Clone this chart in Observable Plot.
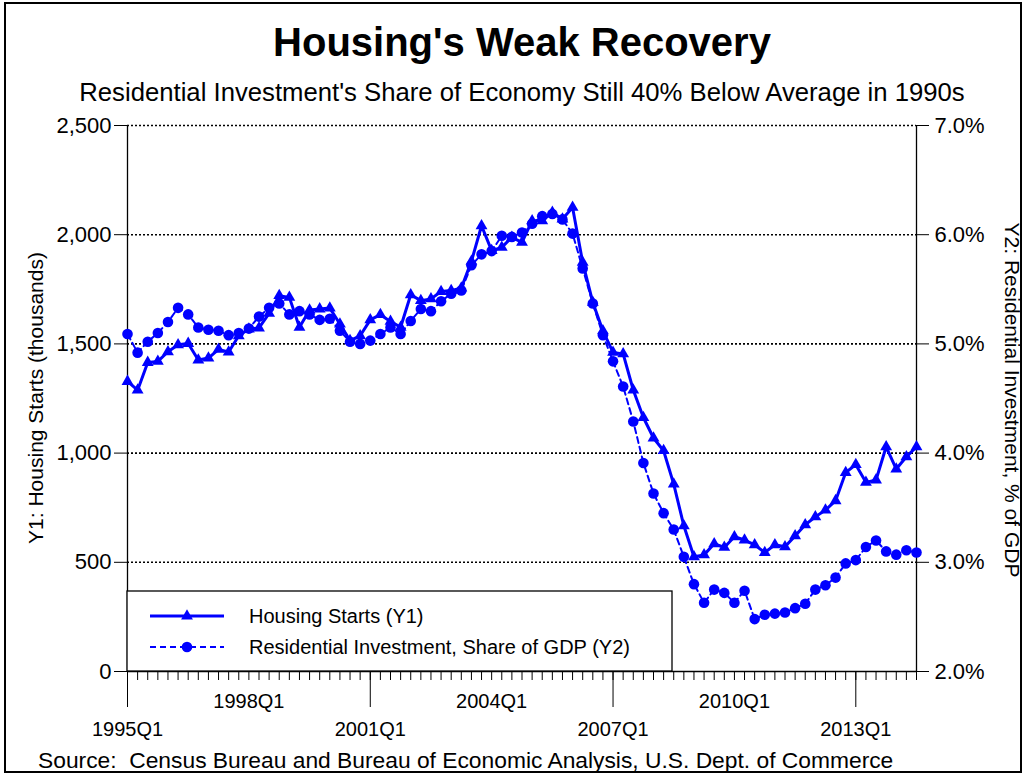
<!DOCTYPE html>
<html><head><meta charset="utf-8">
<script src="https://cdn.jsdelivr.net/npm/d3@7"></script>
<script src="https://cdn.jsdelivr.net/npm/@observablehq/plot@0.6"></script>
<style>
html,body{margin:0;padding:0;background:#fff;overflow:hidden;}
#wrap{position:relative;width:1028px;height:776px;overflow:hidden;background:#fff;}
#wrap svg{position:absolute;left:0;top:0;}
#frame{position:absolute;left:4px;top:2px;width:1018px;height:771px;box-sizing:border-box;border:2px solid #000;pointer-events:none;}
</style></head><body><div id="wrap"></div><script>
// ---- categories ----
const quarters = [];
for (let y = 1995; y <= 2014; y++) for (let q = 1; q <= 4; q++) quarters.push(`${y}Q${q}`);
quarters.length = 79; // 1995Q1 .. 2014Q3

// ---- series values ----
const housingStarts = [1328,1288,1415,1420,1464,1496,1502,1426,1435,1475,
  1463,1537,1568,1573,1640,1721,1713,1576,1655,1660,
  1664,1591,1515,1537,1610,1634,1603,1576,1725,1698,
  1706,1740,1744,1756,1878,2041,1927,1942,1988,1965,
  2064,2064,2102,2072,2125,1873,1690,1560,1461,1454,
  1289,1163,1069,1011,858,667,525,534,585,568,
  617,602,580,545,580,571,621,672,708,739,
  782,911,947,866,877,1029,927,983,1029];
const resInvShare = [5.09,4.92,5.02,5.10,5.20,5.33,5.27,5.15,5.13,5.12,
  5.08,5.10,5.14,5.25,5.33,5.37,5.27,5.30,5.27,5.22,
  5.23,5.12,5.02,5.00,5.03,5.09,5.15,5.09,5.21,5.32,
  5.30,5.39,5.46,5.49,5.72,5.82,5.85,5.99,5.98,6.02,
  6.10,6.17,6.19,6.14,6.01,5.69,5.37,5.08,4.84,4.61,
  4.29,3.91,3.63,3.45,3.30,3.05,2.80,2.63,2.75,2.72,
  2.63,2.74,2.48,2.52,2.53,2.54,2.58,2.62,2.75,2.79,
  2.86,2.99,3.02,3.14,3.20,3.10,3.07,3.11,3.09];

// ---- tick labels ----
const y1Ticks = [0, 500, 1000, 1500, 2000, 2500];
const y2Labels = ["2.0%", "3.0%", "4.0%", "5.0%", "6.0%", "7.0%"];
const y2Min = 2.0, y2Max = 7.0;
const xLabelsLow = ["1995Q1", "2001Q1", "2007Q1", "2013Q1"];
const xLabelsHigh = ["1998Q1", "2004Q1", "2010Q1"];

const TITLE = "Housing's Weak Recovery";
const SUBTITLE = "Residential Investment's Share of Economy Still 40% Below Average in 1990s";
const SOURCE = "Source:  Census Bureau and Bureau of Economic Analysis, U.S. Dept. of Commerce";
const Y1_TITLE = "Y1: Housing Starts (thousands)";
const Y2_TITLE = "Y2: Residential Investment, % of GDP";
const LEGEND = ["Housing Starts (Y1)", "Residential Investment, Share of GDP (Y2)"];

// map secondary axis into primary units
const y1Max = y1Ticks[y1Ticks.length - 1];
const toY1 = v => (v - y2Min) / (y2Max - y2Min) * y1Max;

const hs = quarters.map((q, i) => ({q, v: housingStarts[i]}));
const ri = quarters.map((q, i) => ({q, v: toY1(resInvShare[i])}));

const BLUE = "#0000ff";
const FONT = "'Liberation Sans', Arial, Helvetica, sans-serif";

const chart = Plot.plot({
  width: 1028, height: 776,
  marginTop: 125, marginBottom: 105, marginLeft: 127, marginRight: 112,
  x: {type: "point", domain: quarters, padding: 0, round: false, axis: null, label: null},
  y: {domain: [0, y1Max], axis: null, label: null},
  style: {fontFamily: FONT, fontSize: "20px", color: "#000", background: "transparent", overflow: "visible"},
  marks: [
    Plot.ruleY(y1Ticks.filter(d => d > 0), {stroke: "#000", strokeWidth: 1.6, strokeDasharray: "2,2"}),
    Plot.axisY(y1Ticks, {anchor: "left", tickSize: 13, tickPadding: 3, fontSize: 22, tickFormat: d3.format(","), label: null, stroke: "#000", strokeOpacity: 1}),
    Plot.axisY(y1Ticks, {anchor: "right", tickSize: 12, tickPadding: 6, fontSize: 22, tickFormat: d => y2Labels[y1Ticks.indexOf(d)], label: null, stroke: "#000", strokeOpacity: 1}),
    Plot.axisX(quarters, {tickSize: 9, tickFormat: () => "", label: null, stroke: "#000", strokeOpacity: 1}),
    Plot.axisX(xLabelsLow, {tickSize: 36, tickFormat: () => "", label: null, stroke: "#000", strokeOpacity: 1}),
    Plot.axisX(xLabelsHigh, {tickSize: 0, tickPadding: 22, label: null}),
    Plot.axisX(xLabelsLow, {tickSize: 0, tickPadding: 50, label: null}),
    Plot.ruleY([0], {stroke: "#000", strokeWidth: 1.3}),
    Plot.ruleX([quarters[0], quarters[quarters.length - 1]], {stroke: "#000", strokeWidth: 1.3}),
    Plot.line(hs, {x: "q", y: "v", stroke: BLUE, strokeWidth: 3}),
    Plot.dot(hs, {x: "q", y: "v", symbol: "triangle", r: 4.4, fill: BLUE}),
    Plot.line(ri, {x: "q", y: "v", stroke: BLUE, strokeWidth: 2, strokeDasharray: "6,4"}),
    Plot.dot(ri, {x: "q", y: "v", r: 5.3, fill: BLUE})
  ]
});

const svg = d3.select(chart);
svg.attr("font-family", FONT);
const txt = (x, y, s, size, opts = {}) => {
  const t = svg.append("text").attr("x", x).attr("y", y).attr("font-size", size)
    .attr("fill", "#000").attr("text-anchor", opts.anchor || "start").text(s);
  if (opts.bold) t.attr("font-weight", "bold");
  if (opts.transform) t.attr("transform", opts.transform);
  if (opts.dy) t.attr("dy", opts.dy);
  return t;
};
txt(522, 56, TITLE, 40, {anchor: "middle", bold: true});
txt(522, 101, SUBTITLE, 25.7, {anchor: "middle"});
txt(38, 768, SOURCE, 22.8);
txt(0, 0, Y1_TITLE, 21, {anchor: "middle", transform: "translate(36,398) rotate(-90)", dy: "0.35em"});
txt(0, 0, Y2_TITLE, 21, {anchor: "middle", transform: "translate(1012,400) rotate(90)", dy: "0.35em"});

// legend
const lg = svg.append("g");
lg.append("rect").attr("x", 127).attr("y", 591).attr("width", 545).attr("height", 80)
  .attr("fill", "#fff").attr("stroke", "#000").attr("stroke-width", 1.3);
lg.append("line").attr("x1", 150).attr("x2", 224).attr("y1", 616).attr("y2", 616)
  .attr("stroke", BLUE).attr("stroke-width", 3);
lg.append("path").attr("d", d3.symbol(d3.symbolTriangle, Math.PI * 4.4 * 4.4)())
  .attr("transform", "translate(187,616)").attr("fill", BLUE);
lg.append("line").attr("x1", 150).attr("x2", 224).attr("y1", 647).attr("y2", 647)
  .attr("stroke", BLUE).attr("stroke-width", 2).attr("stroke-dasharray", "6,4");
lg.append("circle").attr("cx", 187).attr("cy", 647).attr("r", 5.3).attr("fill", BLUE);
txt(249, 616, LEGEND[0], 20, {dy: "0.35em"});
txt(249, 647, LEGEND[1], 20, {dy: "0.35em"});

const wrap = document.getElementById("wrap");
wrap.appendChild(chart);
const frame = document.createElement("div");
frame.id = "frame";
wrap.appendChild(frame);
</script></body></html>
